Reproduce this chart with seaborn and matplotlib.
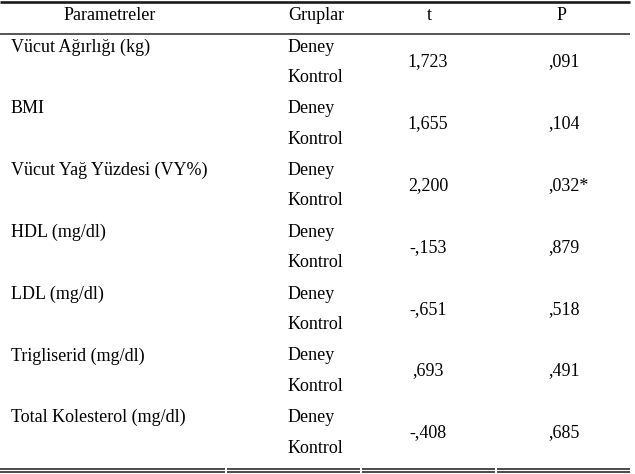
import matplotlib
matplotlib.use("Agg")
import matplotlib.pyplot as plt
import seaborn as sns

sns.set_theme(style="white")
plt.rcParams['font.family'] = ['Liberation Serif', 'DejaVu Serif']

headers = ["Parametreler", "Gruplar", "t", "P"]
parameters = ["Vücut Ağırlığı (kg)", "BMI", "Vücut Yağ Yüzdesi (VY%)", "HDL (mg/dl)",
              "LDL (mg/dl)", "Trigliserid (mg/dl)", "Total Kolesterol (mg/dl)"]
groups = ["Deney", "Kontrol"]
t_values = ["1,723", "1,655", "2,200", "-,153", "-,651", ",693", "-,408"]
p_values = [",091", ",104", ",032*", ",879", ",518", ",491", ",685"]

W, H = 635, 474
fig = plt.figure(figsize=(W / 100, H / 100), dpi=100)
ax = fig.add_axes([0, 0, 1, 1])
ax.set_xlim(0, W)
ax.set_ylim(H, 0)
ax.axis("off")

fs = 13
txt = "#000000"
col_param_x = 11
col_group_x = 288
col_t_x = 428
col_p_x = 548

# header
hy = 15
ax.text(110, hy, headers[0], ha="center", va="center", fontsize=fs, color=txt)
ax.text(316, hy, headers[1], ha="center", va="center", fontsize=fs, color=txt)
ax.text(429, hy, headers[2], ha="center", va="center", fontsize=fs, color=txt)
ax.text(562, hy, headers[3], ha="center", va="center", fontsize=fs, color=txt)

# rules
ax.plot([0, 630], [1.5, 1.5], color="#1a1a1a", lw=1.9, solid_capstyle="butt")
ax.plot([0, 630], [33.5, 33.5], color="#555555", lw=1.4, solid_capstyle="butt")
segs = [(0, 225), (227, 360), (362, 495), (497, 630)]
for a, b in segs:
    ax.plot([a, b], [469, 469], color="#1a1a1a", lw=1.1, solid_capstyle="butt")
    ax.plot([a, b], [471.5, 471.5], color="#1a1a1a", lw=1.1, solid_capstyle="butt")

y0 = 47
block = 61.8
sub = 30.3
for i, (p, t, pv) in enumerate(zip(parameters, t_values, p_values)):
    yd = y0 + i * block
    ax.text(col_param_x, yd, p, ha="left", va="center", fontsize=fs, color=txt)
    ax.text(col_group_x, yd, groups[0], ha="left", va="center", fontsize=fs, color=txt)
    ax.text(col_group_x, yd + sub, groups[1], ha="left", va="center", fontsize=fs, color=txt)
    ax.text(col_t_x, yd + 15, t, ha="center", va="center", fontsize=fs, color=txt)
    ax.text(col_p_x, yd + 15, pv, ha="left", va="center", fontsize=fs, color=txt)

fig.savefig("out.png", dpi=100)
